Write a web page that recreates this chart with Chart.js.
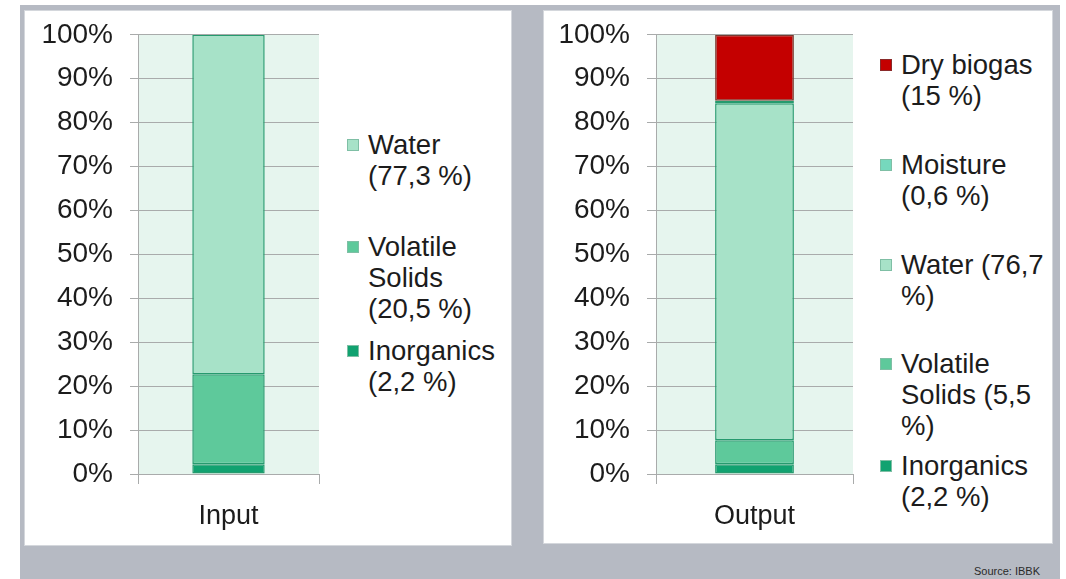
<!DOCTYPE html>
<html>
<head>
<meta charset="utf-8">
<script src="https://cdn.jsdelivr.net/npm/chart.js@4"></script>
<style>
  html, body { margin:0; padding:0; background:#ffffff; }
  #stage { position:relative; width:1066px; height:579px; overflow:hidden; background:#ffffff;
           font-family:"Liberation Sans", Arial, sans-serif; }
  #bg { position:absolute; left:20px; top:5px; width:1040px; height:574px; background:#b6bac3; }
  .panel { position:absolute; background:#ffffff; border:1px solid #d4d7dc; box-sizing:border-box; }
  canvas { position:absolute; }
  .legend { position:absolute; color:#1c1c1c; font-size:27.5px; line-height:31px; }
  .item { position:absolute; left:0; white-space:nowrap; }
  .sw { position:absolute; width:12px; height:12px; box-sizing:border-box; }
  .txt { position:absolute; left:21px; top:0; }
  #src { position:absolute; right:26px; top:565px; font-size:11px; color:#2a2a2a; }
</style>
</head>
<body>
<div id="stage">
  <div id="bg"></div>
  <div class="panel" style="left:24px;top:10px;width:488px;height:536px;"></div>
  <div class="panel" style="left:543px;top:10px;width:510px;height:534px;"></div>
  <canvas id="c1" width="305" height="535" style="left:25px;top:1px;"></canvas>
  <canvas id="c2" width="320" height="533" style="left:543px;top:1px;"></canvas>
  <div class="legend" id="leg1" style="left:347px;top:0px;"></div>
  <div class="legend" id="leg2" style="left:880px;top:0px;"></div>
  <div id="src">Source: IBBK</div>
</div>
<script>
// ---- data ----
const inputCategories = ["Input"];
const outputCategories = ["Output"];
const inputSeries = ["Inorganics", "Volatile Solids", "Water"];
const inputValues = [2.2, 20.5, 77.3];
const outputSeries = ["Inorganics", "Volatile Solids", "Water", "Moisture", "Dry biogas"];
const outputValues = [2.2, 5.5, 76.7, 0.6, 15];
const yTicks = [0, 10, 20, 30, 40, 50, 60, 70, 80, 90, 100];

const inputLegend = [
  { label: "Water", lines: ["Water", "(77,3 %)"], top: 129 },
  { label: "Volatile Solids", lines: ["Volatile", "Solids", "(20,5 %)"], top: 231 },
  { label: "Inorganics", lines: ["Inorganics", "(2,2 %)"], top: 335 }
];
const outputLegend = [
  { label: "Dry biogas", lines: ["Dry biogas", "(15 %)"], top: 49 },
  { label: "Moisture", lines: ["Moisture", "(0,6 %)"], top: 149 },
  { label: "Water", lines: ["Water (76,7", "%)"], top: 249 },
  { label: "Volatile Solids", lines: ["Volatile", "Solids (5,5", "%)"], top: 348 },
  { label: "Inorganics", lines: ["Inorganics", "(2,2 %)"], top: 450 }
];

// ---- styles ----
const colors = {
  "Inorganics": "#11a270",
  "Volatile Solids": "#5ec99b",
  "Water": "#a7e2c8",
  "Moisture": "#76d8bd",
  "Dry biogas": "#c40000"
};
const borderCol = "#269a6e";
const gridCol = "#a9abab";
const plotBg = "#e6f5ee";
const FONT = "'Liberation Sans', Arial, sans-serif";

const plotBgPlugin = {
  id: "plotBg",
  beforeDraw(chart) {
    const a = chart.chartArea, ctx = chart.ctx;
    ctx.save();
    ctx.fillStyle = plotBg;
    ctx.fillRect(a.left, a.top, a.right - a.left, a.bottom - a.top);
    ctx.restore();
  }
};

function makeChart(id, cats, series, values, yWidth, xHeight, rightPad, tickLen) {
  const datasets = series.map((s, i) => ({
    label: s,
    data: [values[i]],
    backgroundColor: colors[s],
    borderColor: s === "Dry biogas" ? "#7a3a30" : borderCol,
    borderWidth: 1.5,
    borderSkipped: false,
    barPercentage: 0.4,
    categoryPercentage: 1.0
  }));
  return new Chart(document.getElementById(id), {
    type: "bar",
    data: { labels: cats, datasets },
    plugins: [plotBgPlugin],
    options: {
      responsive: false,
      animation: false,
      devicePixelRatio: 1,
      layout: { padding: { top: 17, right: rightPad, left: 0, bottom: 0 } },
      plugins: { legend: { display: false }, tooltip: { enabled: false } },
      scales: {
        x: {
          stacked: true,
          grid: { display: true, drawOnChartArea: false, color: gridCol, tickLength: 10, offset: true },
          border: { color: gridCol },
          ticks: { color: "#1c1c1c", font: { family: FONT, size: 27 }, padding: 16 },
          afterFit: (s) => { s.height = xHeight; }
        },
        y: {
          stacked: true,
          min: 0, max: 100,
          afterBuildTicks: (s) => { s.ticks = yTicks.map(v => ({ value: v })); },
          grid: { color: gridCol, tickLength: tickLen },
          border: { color: gridCol },
          ticks: {
            autoSkip: false,
            color: "#1c1c1c",
            font: { family: FONT, size: 28 },
            padding: 17,
            callback: (v) => v + "%"
          },
          afterFit: (s) => { s.width = yWidth; }
        }
      }
    }
  });
}

makeChart("c1", inputCategories, inputSeries, inputValues, 113, 62, 11, 8);
makeChart("c2", outputCategories, outputSeries, outputValues, 113, 60, 10, 9);

function buildLegend(el, items) {
  items.forEach(it => {
    const d = document.createElement("div");
    d.className = "item";
    d.style.top = it.top + "px";
    const sw = document.createElement("div");
    sw.className = "sw";
    sw.style.background = colors[it.label];
    sw.style.border = "1px solid " + (it.label === "Dry biogas" ? "#8a2a2a" : "#7fbfa5");
    sw.style.top = "10px";
    d.appendChild(sw);
    const t = document.createElement("div");
    t.className = "txt";
    t.innerHTML = it.lines.join("<br>");
    d.appendChild(t);
    el.appendChild(d);
  });
}
buildLegend(document.getElementById("leg1"), inputLegend);
buildLegend(document.getElementById("leg2"), outputLegend);
</script>
</body>
</html>
